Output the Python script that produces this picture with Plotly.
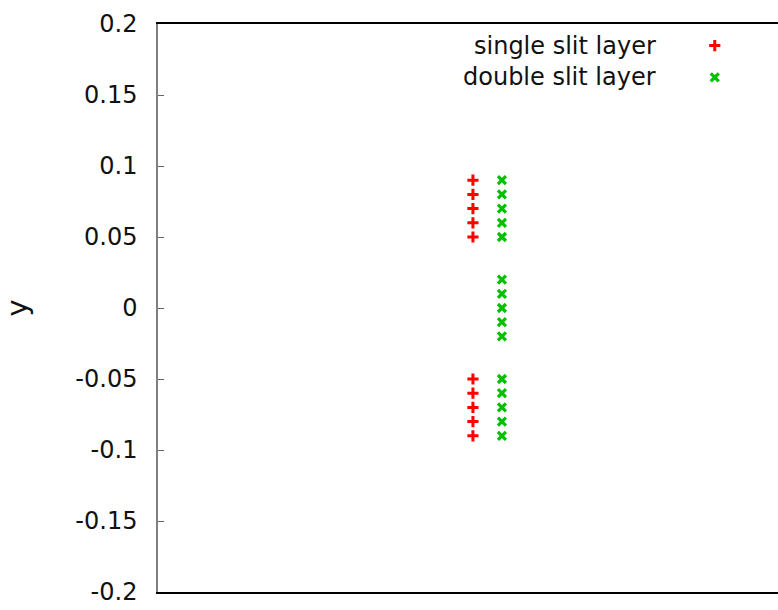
import plotly.graph_objects as go

# Layer positions along x and the y coordinates of the slit detectors
single_x = [0, 0, 0, 0, 0, 0, 0, 0, 0, 0]
single_y = [0.09, 0.08, 0.07, 0.06, 0.05, -0.05, -0.06, -0.07, -0.08, -0.09]

double_x = [1] * 15
double_y = [0.09, 0.08, 0.07, 0.06, 0.05,
            0.02, 0.01, 0.0, -0.01, -0.02,
            -0.05, -0.06, -0.07, -0.08, -0.09]

series_names = ["single slit layer", "double slit layer"]
y_ticks = [0.2, 0.15, 0.1, 0.05, 0, -0.05, -0.1, -0.15, -0.2]
y_tick_text = ["0.2", "0.15", "0.1", "0.05", "0", "-0.05", "-0.1", "-0.15", "-0.2"]

RED = "#ff0000"
GREEN = "#00c000"
FONT = "DejaVu Sans, Liberation Sans, sans-serif"

red_marker = dict(symbol="cross-thin", size=8, line=dict(color=RED, width=3))
green_marker = dict(symbol="x-thin", size=8, line=dict(color=GREEN, width=3.2))

fig = go.Figure()
fig.add_trace(go.Scatter(x=single_x, y=single_y, mode="markers",
                         name=series_names[0], marker=red_marker))
fig.add_trace(go.Scatter(x=double_x, y=double_y, mode="markers",
                         name=series_names[1], marker=green_marker))

# Key: text on the left, sample marker on the right
key_y = [0.962, 0.906]
fig.add_trace(go.Scatter(x=[0.898], y=[key_y[0]], mode="markers", marker=red_marker,
                         xaxis="x2", yaxis="y2", showlegend=False, hoverinfo="skip"))
fig.add_trace(go.Scatter(x=[0.898], y=[key_y[1]], mode="markers", marker=green_marker,
                         xaxis="x2", yaxis="y2", showlegend=False, hoverinfo="skip"))
for name, ky in zip(series_names, key_y):
    fig.add_annotation(text=name, x=0.806, y=ky, xref="paper", yref="paper",
                       xanchor="right", yanchor="middle", showarrow=False,
                       font=dict(family=FONT, size=24, color="#111111"))

fig.update_layout(
    width=778, height=610,
    margin=dict(l=158, r=0, t=24, b=18),
    paper_bgcolor="white", plot_bgcolor="white",
    showlegend=False,
    font=dict(family=FONT, size=24, color="#111111"),
    xaxis=dict(range=[-10.86, 10.52], showgrid=False, zeroline=False,
               showticklabels=False, ticks="", showline=True, mirror=True,
               linecolor="black", linewidth=1.5),
    yaxis=dict(range=[-0.2, 0.2], showgrid=False, zeroline=False,
               tickvals=y_ticks, ticktext=y_tick_text, ticks="inside",
               ticklen=6, tickcolor="#666666", tickwidth=1,
               showline=True, linecolor="#808080", linewidth=1.5,
               ticklabelstandoff=14,
               title=dict(text="y", standoff=40)),
    xaxis2=dict(range=[0, 1], overlaying="x", visible=False, domain=[0, 1]),
    yaxis2=dict(range=[0, 1], overlaying="y", visible=False),
)

fig.write_html("out.html")
